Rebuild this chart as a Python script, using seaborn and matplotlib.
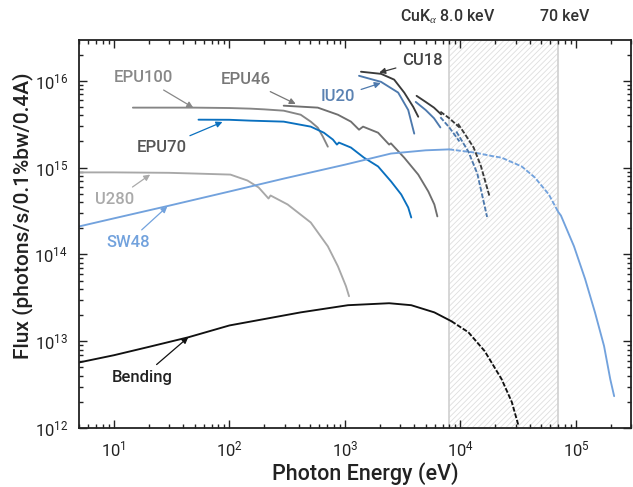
import numpy as np
import pandas as pd
import matplotlib
matplotlib.use("Agg")
import matplotlib.pyplot as plt
import seaborn as sns

# ---------------- data ----------------
bend_E = [5, 10, 20, 44, 100, 200, 414, 1062, 2414, 3750, 5940, 8350]
bend_F = [5.7e12, 6.9e12, 8.6e12, 1.11e13, 1.52e13, 1.8e13, 2.15e13, 2.6e13, 2.74e13, 2.6e13, 2.15e13, 1.7e13]
bend_dash_E = [8350, 11700, 16200, 22700, 27800, 31900]
bend_dash_F = [1.7e13, 1.27e13, 7.7e12, 3.66e12, 2.0e12, 1.05e12]

sw48_E = [5, 10, 29, 100, 300, 1000, 2500, 5000, 8000]
sw48_F = [2.1e14, 2.6e14, 3.6e14, 5.3e14, 7.5e14, 1.08e15, 1.45e15, 1.58e15, 1.62e15]
sw48_dash_E = [8000, 13200, 18600, 22700, 33900, 44000, 58200, 70000]
sw48_dash_F = [1.62e15, 1.49e15, 1.36e15, 1.3e15, 1.03e15, 7.7e14, 4.9e14, 3.1e14]
sw48_hi_E = [70000, 74100, 96100, 120000, 146000, 175000, 198000, 214000]
sw48_hi_F = [3.1e14, 2.8e14, 1.24e14, 5.2e13, 2.15e13, 8.8e12, 3.66e12, 2.33e12]

u280_E = [5, 10, 30, 56, 102, 143, 179, 218, 227, 319, 506, 711, 869, 1021, 1085]
u280_F = [8.8e14, 8.8e14, 8.7e14, 8.5e14, 8.3e14, 7.1e14, 5.9e14, 4.4e14, 4.77e14, 3.76e14, 2.33e14, 1.24e14, 7.3e13, 4.3e13, 3.3e13]

epu100_E = [14.6, 50, 100, 152, 200, 295, 414, 506, 582, 644, 711]
epu100_F = [4.9e15, 4.9e15, 4.85e15, 4.77e15, 4.68e15, 4.52e15, 4.06e15, 3.38e15, 2.88e15, 2.27e15, 1.74e15]

epu70_E = [54, 100, 152, 295, 506, 657, 787, 852, 887, 1127, 1462, 1936, 2512, 3070, 3530, 3750]
epu70_F = [3.56e15, 3.55e15, 3.47e15, 3.38e15, 2.96e15, 2.52e15, 2.1e15, 1.84e15, 1.94e15, 1.7e15, 1.3e15, 1.03e15, 6.9e14, 4.9e14, 3.47e14, 2.66e14]

epu46_E = [295, 582, 869, 1127, 1324, 1435, 1936, 2414, 2500, 3260, 4310, 5270, 5940, 6310]
epu46_F = [5.16e15, 4.9e15, 4.06e15, 3.38e15, 2.73e15, 2.96e15, 2.52e15, 1.84e15, 1.9e15, 1.3e15, 8.3e14, 5.3e14, 3.76e14, 2.74e14]

cu18_s1_E = [1377, 2055, 2667, 3260, 3900, 4310]
cu18_s1_F = [1.27e16, 1.2e16, 1.03e16, 7.3e15, 5.0e15, 3.85e15]
cu18_s2_E = [4170, 5000, 5900, 6800]
cu18_s2_F = [6.7e15, 5.7e15, 4.9e15, 4.1e15]
cu18_s3_E = [6700, 8000, 9800]
cu18_s3_F = [4.4e15, 3.7e15, 2.9e15]
cu18_s4_E = [9500, 11000, 13000, 15000, 17900]
cu18_s4_F = [3.2e15, 2.4e15, 1.7e15, 1.05e15, 4.6e14]

iu20_s1_E = [1324, 2055, 2890, 3530, 3980]
iu20_s1_F = [1.14e16, 9.7e15, 7.3e15, 4.6e15, 2.46e15]
iu20_s2_E = [4100, 5000, 5900, 6700]
iu20_s2_F = [5.7e15, 4.6e15, 3.7e15, 2.9e15]
iu20_s3_E = [6700, 8000, 9800]
iu20_s3_F = [3.8e15, 2.9e15, 2.0e15]
iu20_s4_E = [9200, 11700, 14000, 17000]
iu20_s4_F = [2.6e15, 1.53e15, 8.5e14, 2.7e14]

band_lo, band_hi = 8000, 70000
x_ticks = [10, 100, 1000, 10000, 100000]
y_ticks = [1e12, 1e13, 1e14, 1e15, 1e16]

# ---------------- styling ----------------
sns.set_style("ticks")
FONT = ['Roboto', 'Liberation Sans', 'DejaVu Sans']
plt.rcParams['font.family'] = FONT
plt.rcParams['mathtext.fontset'] = 'custom'
plt.rcParams['mathtext.rm'] = 'Roboto'
plt.rcParams['mathtext.it'] = 'Liberation Serif:italic'
plt.rcParams['hatch.linewidth'] = 0.6
plt.rcParams['hatch.color'] = '#dedede'

fig = plt.figure(figsize=(6.33, 4.87), dpi=100)
ax = fig.add_axes([0.125, 0.121, 0.872, 0.797])

LW = 1.35
DASH = (2.6, 1.0)

def draw(E, F, color, dashed=False, lw=LW):
    df = pd.DataFrame({"E": E, "F": F})
    sns.lineplot(data=df, x="E", y="F", color=color, lw=lw, sort=False,
                 estimator=None, ax=ax)
    if dashed:
        ax.lines[-1].set_dashes(DASH)

# shaded band
ax.axvspan(band_lo, band_hi, facecolor='none', edgecolor='#dedede',
           hatch='//////', lw=0, zorder=0)
ax.axvline(band_lo, color='#d0d0d0', lw=1.2, zorder=0.5)
ax.axvline(band_hi, color='#d0d0d0', lw=1.2, zorder=0.5)

c_bend = '#111111'
c_sw = '#72a2dd'
c_u280 = '#a8a8a8'
c_epu100 = '#858585'
c_epu70 = '#0a70bf'
c_epu46 = '#6f6f6f'
c_cu18 = '#3a3a3a'
c_iu20 = '#4d79ad'

draw(bend_E, bend_F, c_bend)
draw(bend_dash_E, bend_dash_F, c_bend, dashed=True)
draw(u280_E, u280_F, c_u280)
draw(epu100_E, epu100_F, c_epu100)
draw(epu70_E, epu70_F, c_epu70)
draw(epu46_E, epu46_F, c_epu46)
draw(sw48_E, sw48_F, c_sw)
draw(sw48_dash_E, sw48_dash_F, c_sw, dashed=True)
draw(sw48_hi_E, sw48_hi_F, c_sw)
draw(iu20_s1_E, iu20_s1_F, c_iu20)
draw(iu20_s2_E, iu20_s2_F, c_iu20)
draw(iu20_s3_E, iu20_s3_F, c_iu20, dashed=True)
draw(iu20_s4_E, iu20_s4_F, c_iu20, dashed=True)
draw(cu18_s1_E, cu18_s1_F, c_cu18)
draw(cu18_s2_E, cu18_s2_F, c_cu18)
draw(cu18_s3_E, cu18_s3_F, c_cu18, dashed=True)
draw(cu18_s4_E, cu18_s4_F, c_cu18, dashed=True)

ax.set_xscale('log')
ax.set_yscale('log')
ax.set_xlim(5, 3.0e5)
ax.set_ylim(1e12, 2.95e16)
ax.set_xticks(x_ticks)
ax.set_yticks(y_ticks)
ax.tick_params(which='both', direction='in', top=True, right=True, width=1.0,
               colors='#222222')
ax.tick_params(which='major', length=6, labelsize=12)
ax.tick_params(axis='x', which='major', pad=8)
ax.tick_params(axis='y', which='major', pad=8)
ax.tick_params(which='minor', length=3)
for s in ax.spines.values():
    s.set_linewidth(1.3)
    s.set_color('#222222')

ax.set_xlabel('Photon Energy (eV)', fontsize=15.5, fontweight='medium', color='#222222')
ax.set_ylabel('Flux (photons/s/0.1%bw/0.4A)', fontsize=15, fontweight='medium', color='#222222')
ax.xaxis.set_label_coords(0.518, -0.088)
ax.yaxis.set_label_coords(-0.083, 0.546)

# annotations
def note(text, xy, xytext, color, tcolor):
    ax.annotate(text, xy=xy, xytext=xytext, fontsize=12, color=tcolor,
                fontweight='medium', ha='center', va='center',
                arrowprops=dict(arrowstyle='-|>', color=color, lw=0.9,
                                mutation_scale=9, shrinkA=2, shrinkB=0))

note('EPU100', (48.6, 4.9e15), (17.9, 1.08e16), '#888888', '#888888')
note('EPU46', (375, 5.4e15), (138, 1.03e16), '#777777', '#777777')
note('EPU70', (87, 3.35e15), (26, 1.7e15), c_epu70, '#555555')
note('IU20', (2040, 9.4e15), (870, 6.5e15), c_iu20, '#5b82b2')
note('CU18', (1980, 1.24e16), (4660, 1.7e16), c_cu18, '#444444')
note('U280', (20.6, 8.3e14), (10.2, 4.3e14), '#aaaaaa', '#aaaaaa')
note('SW48', (29, 3.56e14), (13.2, 1.37e14), c_sw, c_sw)
note('Bending', (44, 1.11e13), (17.5, 3.86e12), '#111111', '#222222')

trans = matplotlib.transforms.blended_transform_factory(ax.transData, fig.transFigure)
fig.text(7700, 0.966, r'CuK$_{\alpha}$ 8.0 keV', transform=trans, ha='center',
         va='center', fontsize=11.5, fontweight='medium', color='#333333')
fig.text(80000, 0.966, '70 keV', transform=trans, ha='center', va='center',
         fontsize=11.5, fontweight='medium', color='#333333')

fig.savefig('out.png', dpi=100)
